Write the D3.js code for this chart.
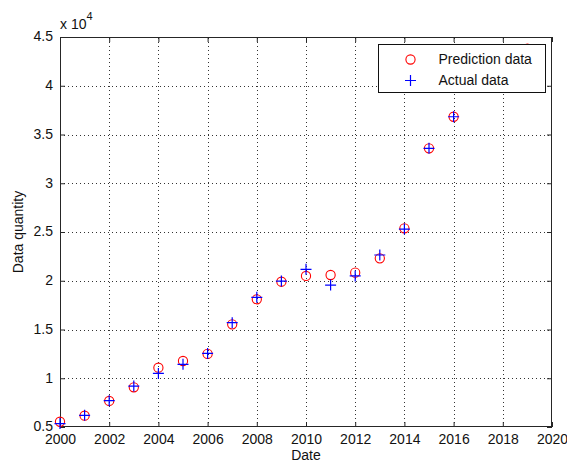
<!DOCTYPE html>
<html>
<head>
<meta charset="utf-8">
<script src="https://cdn.jsdelivr.net/npm/d3@7"></script>
<style>
  body { margin: 0; background: #fff; }
  text { font-family: "Liberation Sans", Arial, sans-serif; }
</style>
</head>
<body>
<svg id="chart" width="567" height="463"></svg>
<script>
// values (data quantity)
const predYears = [2000, 2001, 2002, 2003, 2004, 2005, 2006, 2007, 2008, 2009, 2010, 2011, 2012, 2013, 2014, 2015, 2016, 2019];
const predValues = [5540, 6160, 7670, 9070, 11080, 11770, 12500, 15530, 18100, 19900, 20490, 20590, 20830, 22300, 25380, 33580, 36820, 43800];
const actualYears = [2000, 2001, 2002, 2003, 2004, 2005, 2006, 2007, 2008, 2009, 2010, 2011, 2012, 2013, 2014, 2015, 2016];
const actualValues = [5350, 6200, 7700, 9200, 10500, 11430, 12550, 15700, 18300, 19970, 21170, 19560, 20500, 22640, 25300, 33580, 36820];
const xTicks = d3.range(2000, 2021, 2);
const yTicks = d3.range(5000, 45001, 5000);

const margin = { top: 37, right: 15, bottom: 36, left: 60 };
const width = 567, height = 463;
const fontSize = "14px";

const svg = d3.select("#chart");

const x = d3.scaleLinear()
  .domain([2000, 2020])
  .range([margin.left, width - margin.right]);
const y = d3.scaleLinear()
  .domain([5000, 45000])
  .range([height - margin.bottom, margin.top]);

const axisColor = "#262626";

// dotted grid
const grid = svg.append("g").attr("stroke", "#333").attr("stroke-dasharray", "1,3");
grid.selectAll(".gx")
  .data(xTicks.slice(1, -1))
  .enter()
  .append("line")
  .attr("x1", d => Math.round(x(d)) + 0.5)
  .attr("x2", d => Math.round(x(d)) + 0.5)
  .attr("y1", y.range()[0])
  .attr("y2", y.range()[1]);
grid.selectAll(".gy")
  .data(yTicks.slice(1, -1))
  .enter()
  .append("line")
  .attr("y1", d => Math.round(y(d)) + 0.5)
  .attr("y2", d => Math.round(y(d)) + 0.5)
  .attr("x1", x.range()[0])
  .attr("x2", x.range()[1]);

// axes with inward ticks on all four sides
const fmt = d => d3.format("~g")(d / 1e4);
function styleAxis(g) {
  g.select(".domain").remove();
  g.attr("font-family", null);
  g.selectAll(".tick line").attr("stroke", axisColor);
  g.selectAll(".tick text")
    .attr("fill", "#111")
    .style("font-size", fontSize);
}
svg.append("g")
  .attr("transform", "translate(0," + y.range()[0] + ")")
  .call(d3.axisBottom(x).tickValues(xTicks).tickFormat(d3.format("d")).tickSizeInner(-5).tickPadding(7))
  .call(styleAxis);
svg.append("g")
  .attr("transform", "translate(0," + y.range()[1] + ")")
  .call(d3.axisTop(x).tickValues(xTicks).tickFormat("").tickSizeInner(-5))
  .call(styleAxis);
svg.append("g")
  .attr("transform", "translate(" + x.range()[0] + ",0)")
  .call(d3.axisLeft(y).tickValues(yTicks).tickFormat(fmt).tickSizeInner(-5).tickPadding(7))
  .call(styleAxis)
  .selectAll(".tick text")
  .attr("dy", "0.28em");
svg.append("g")
  .attr("transform", "translate(" + x.range()[1] + ",0)")
  .call(d3.axisRight(y).tickValues(yTicks).tickFormat("").tickSizeInner(-5))
  .call(styleAxis);

// frame
svg.append("rect")
  .attr("x", x.range()[0] + 0.5)
  .attr("y", y.range()[1] + 0.5)
  .attr("width", x.range()[1] - x.range()[0] - 1)
  .attr("height", y.range()[0] - y.range()[1] - 1)
  .attr("fill", "none")
  .attr("stroke", axisColor);

// exponent label
const expo = svg.append("text")
  .attr("x", x.range()[0])
  .attr("y", 29)
  .style("font-size", fontSize)
  .attr("fill", "#111");
expo.append("tspan").text("x 10");
expo.append("tspan").attr("dy", -9).style("font-size", "11px").text("4");

// axis labels
svg.append("text")
  .attr("x", (x.range()[0] + x.range()[1]) / 2)
  .attr("y", 459.8)
  .attr("text-anchor", "middle")
  .style("font-size", fontSize)
  .attr("fill", "#111")
  .text("Date");
svg.append("text")
  .attr("transform", "translate(23," + (y.range()[0] + y.range()[1]) / 2 + ") rotate(-90)")
  .attr("text-anchor", "middle")
  .style("font-size", fontSize)
  .attr("fill", "#111")
  .text("Data quantity");

// markers
function plus(cx, cy, s) {
  return "M" + (cx - s) + "," + cy + "H" + (cx + s) + "M" + cx + "," + (cy - s) + "V" + (cy + s);
}
svg.append("g")
  .selectAll("circle")
  .data(predYears.map((d, i) => [d, predValues[i]]))
  .enter()
  .append("circle")
  .attr("cx", d => x(d[0]))
  .attr("cy", d => y(d[1]))
  .attr("r", 4.6)
  .attr("fill", "none")
  .attr("stroke", "#ff0000")
  .attr("stroke-width", 1.1);
svg.append("g")
  .selectAll("path")
  .data(actualYears.map((d, i) => [d, actualValues[i]]))
  .enter()
  .append("path")
  .attr("d", d => plus(x(d[0]), y(d[1]), 5.5))
  .attr("stroke", "#0000ff")
  .attr("stroke-width", 1.2)
  .attr("fill", "none");

// legend (covers the 2019 prediction point, as in the original)
const legend = svg.append("g").attr("transform", "translate(378.5,44.5)");
legend.append("rect")
  .attr("width", 167)
  .attr("height", 48)
  .attr("fill", "#fff")
  .attr("stroke", "#111");
legend.append("circle")
  .attr("cx", 32).attr("cy", 15).attr("r", 4.6)
  .attr("fill", "none").attr("stroke", "#ff0000").attr("stroke-width", 1.1);
legend.append("path")
  .attr("d", plus(32, 36, 5.5))
  .attr("stroke", "#0000ff").attr("stroke-width", 1.2);
legend.append("text")
  .attr("x", 60).attr("y", 19.5)
  .style("font-size", fontSize).attr("fill", "#111")
  .text("Prediction data");
legend.append("text")
  .attr("x", 60).attr("y", 40.5)
  .style("font-size", fontSize).attr("fill", "#111")
  .text("Actual data");
</script>
</body>
</html>
